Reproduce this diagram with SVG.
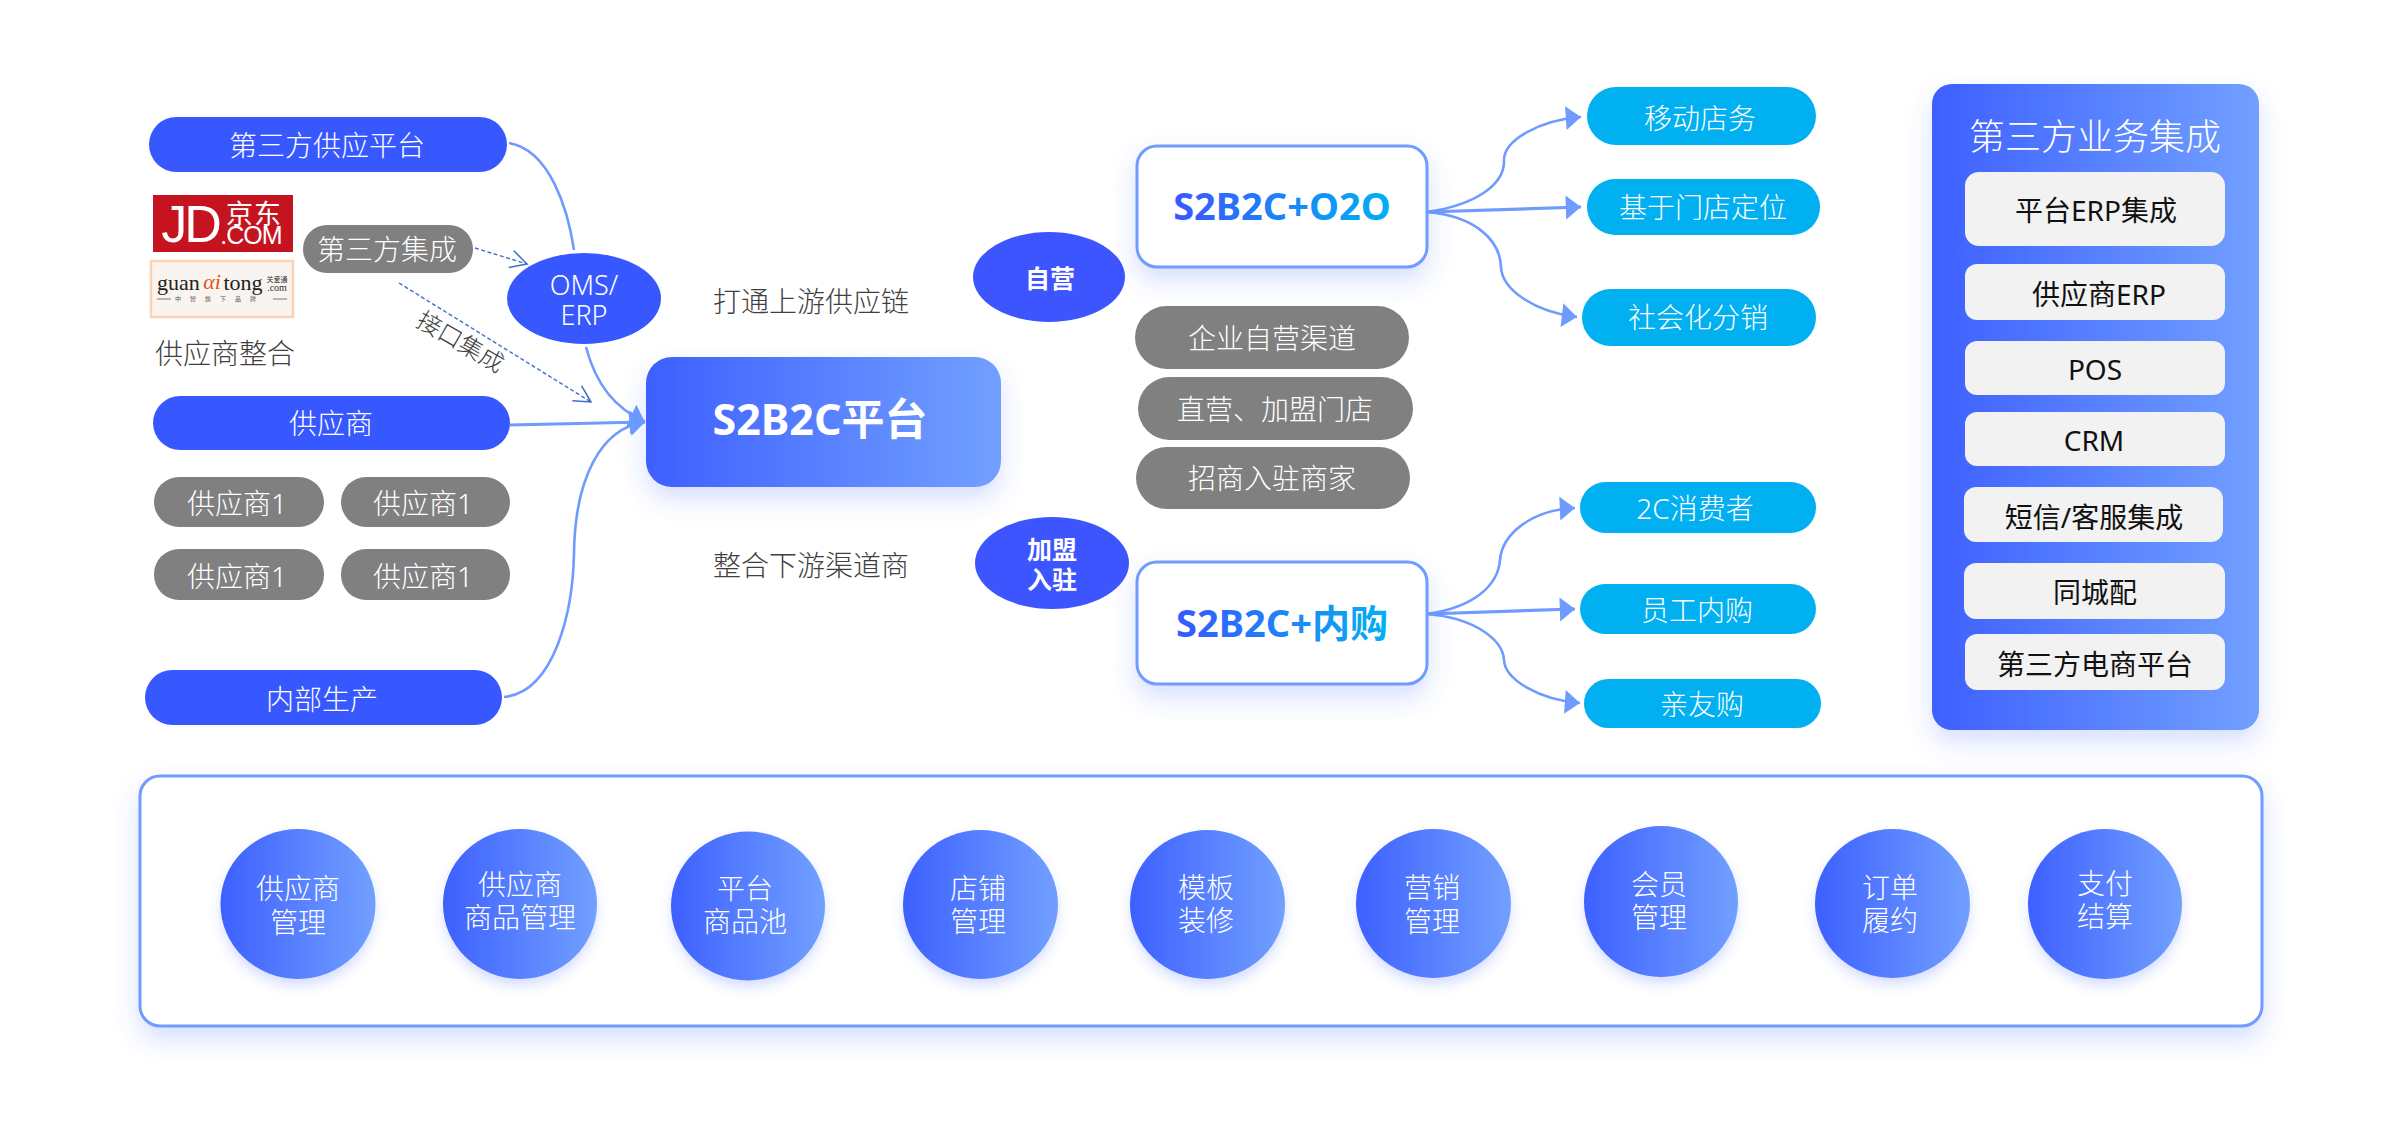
<svg xmlns="http://www.w3.org/2000/svg" width="2400" height="1134" viewBox="0 0 2400 1134">
<style>
text{font-family:"Noto Sans","Noto Sans CJK SC",sans-serif;font-size:28px;font-weight:300;text-anchor:middle;dominant-baseline:central}
.w{fill:#fff}.d{fill:#404040}.k{fill:#111;font-weight:400}
text.b{font-weight:700}
.blue{fill:#3858ff}.grey{fill:#808080}.cy{fill:#00b0f0}.it{fill:#f2f2f2}
.c{fill:none;stroke:#6f9bff;stroke-width:2.6}
.c3{stroke-width:3.2}
.dash{fill:none;stroke:#3f70c8;stroke-width:1.4;stroke-dasharray:4 2.5}
.circ{fill:url(#g1);filter:url(#s2)}
.box{fill:#fff;stroke:#6f9bff;stroke-width:3;filter:url(#s1)}
.lat{font-family:"Liberation Sans",sans-serif;font-weight:400}
.ser{font-family:"Liberation Serif",serif;font-weight:400}
</style>
<defs>
<linearGradient id="g1" x1="0" y1="0" x2="1" y2="0"><stop offset="0" stop-color="#3d60ff"/><stop offset="1" stop-color="#72a0ff"/></linearGradient>
<linearGradient id="t1" gradientUnits="userSpaceOnUse" x1="1173" y1="0" x2="1391" y2="0"><stop offset="0" stop-color="#3858ff"/><stop offset="1" stop-color="#00b0f0"/></linearGradient>
<linearGradient id="t2" gradientUnits="userSpaceOnUse" x1="1177" y1="0" x2="1386" y2="0"><stop offset="0" stop-color="#3858ff"/><stop offset="1" stop-color="#00b0f0"/></linearGradient>
<filter id="s1" x="-20%" y="-30%" width="140%" height="170%"><feDropShadow dx="0" dy="12" stdDeviation="12" flood-color="#3d60ff" flood-opacity=".2"/></filter>
<filter id="s2" x="-30%" y="-30%" width="160%" height="170%"><feDropShadow dx="0" dy="7" stdDeviation="6" flood-color="#3d60ff" flood-opacity=".2"/></filter>
<marker id="af" markerUnits="userSpaceOnUse" markerWidth="18" markerHeight="26" viewBox="0 0 15 24" refX="14" refY="12" orient="auto"><path d="M0,1 L14,12 L0,23 Z" fill="#6f9bff"/></marker>
<marker id="ao" markerUnits="userSpaceOnUse" markerWidth="20" markerHeight="22" viewBox="0 0 18 20" refX="16" refY="10" orient="auto"><path d="M1,2 L16,10 L1,18" fill="none" stroke="#3f70c8" stroke-width="1.4"/></marker>
</defs>
<rect width="2400" height="1134" fill="#fff"/>

<g id="connectors">
<path class="c" d="M509,143 C550,150 568,210 574,250"/>
<path class="c" d="M586,347 C596,385 615,408 645,422" marker-end="url(#af)"/>
<path class="c c3" d="M510,425 L645,422" marker-end="url(#af)"/>
<path class="c" d="M504,697 C555,692 573,610 574,553 C575,480 600,428 645,422" marker-end="url(#af)"/>
<path class="dash" d="M475,248 L527,264" marker-end="url(#ao)"/>
<path class="dash" d="M399,283 L591,402" marker-end="url(#ao)"/>
<path class="c" d="M1427,212 C1475,205 1505,185 1504,160 C1504,140 1540,120 1581,117" marker-end="url(#af)"/>
<path class="c c3" d="M1427,212 L1581,207" marker-end="url(#af)"/>
<path class="c" d="M1427,212 C1475,216 1500,240 1501,267 C1502,290 1535,312 1577,317" marker-end="url(#af)"/>
<path class="c" d="M1427,614 C1475,607 1498,585 1500,560 C1502,535 1530,510 1575,508" marker-end="url(#af)"/>
<path class="c c3" d="M1427,614 L1575,609" marker-end="url(#af)"/>
<path class="c" d="M1427,614 C1475,618 1503,640 1504,660 C1505,680 1540,700 1580,703" marker-end="url(#af)"/>
</g>

<g id="n-third-supply"><rect class="blue" x="149" y="117" width="358" height="55" rx="27.5"/><text class="w" x="327" y="145">第三方供应平台</text></g>
<g id="n-logo-jd"><rect x="153" y="195" width="140" height="57" fill="#c5141f"/>
<text class="w lat" x="190" y="224" style="font-size:52px;letter-spacing:-3px">JD</text>
<text class="w" x="254" y="213" style="font-size:27px;letter-spacing:1px;font-weight:400">京东</text>
<text class="w lat" x="251" y="235" style="font-size:25px;letter-spacing:-1px">.COM</text></g>
<g id="n-logo-gat"><rect x="151" y="261" width="142" height="56" fill="#f9f4f0" stroke="#fcd3b5" stroke-width="2.5"/>
<text class="ser" x="157" y="282" style="font-size:22px;fill:#222;text-anchor:start">guan</text>
<text class="ser" x="212" y="281" style="font-size:22px;fill:#e0561b;font-style:italic;">αi</text>
<text class="ser" x="243" y="282" style="font-size:22px;fill:#222">tong</text>
<text x="277" y="279" style="font-size:7px;fill:#333;font-weight:400">关爱通</text>
<text class="ser" x="277" y="287" style="font-size:10px;fill:#333">.com</text>
<text x="220" y="299" style="font-size:6px;fill:#555;letter-spacing:9px;font-weight:400">中智旗下品牌</text>
<path d="M157,299 H171 M273,299 H287" stroke="#777" stroke-width="1" fill="none"/></g>
<g id="n-third-int"><rect class="grey" x="303" y="225" width="170" height="48" rx="24"/><text class="w" x="387" y="249">第三方集成</text></g>
<g id="n-oms"><ellipse class="blue" cx="584" cy="298.5" rx="77" ry="45.5"/><text class="w" x="584" y="284" style="font-size:27px">OMS/</text><text class="w" x="584" y="314" style="font-size:27px">ERP</text></g>
<g id="t-gys"><text class="d" x="225" y="353">供应商整合</text></g>
<g id="t-iface"><text class="d" x="461" y="341" transform="rotate(30 461 341)" style="font-size:24px">接口集成</text></g>
<g id="n-supplier"><rect class="blue" x="153" y="396" width="357" height="54" rx="27"/><text class="w" x="331" y="423">供应商</text></g>
<g id="n-s1"><rect class="grey" x="154" y="477" width="170" height="50" rx="25"/><text class="w" x="237" y="503">供应商1</text></g>
<g id="n-s2"><rect class="grey" x="341" y="477" width="169" height="50" rx="25"/><text class="w" x="423" y="503">供应商1</text></g>
<g id="n-s3"><rect class="grey" x="154" y="549" width="170" height="51" rx="25"/><text class="w" x="237" y="576">供应商1</text></g>
<g id="n-s4"><rect class="grey" x="341" y="549" width="169" height="51" rx="25"/><text class="w" x="423" y="576">供应商1</text></g>
<g id="n-inner"><rect class="blue" x="145" y="670" width="357" height="55" rx="27.5"/><text class="w" x="322" y="699">内部生产</text></g>
<g id="t-up"><text class="d" x="811" y="301">打通上游供应链</text></g>
<g id="t-down"><text class="d" x="811" y="565">整合下游渠道商</text></g>
<g id="n-platform"><rect x="646" y="357" width="355" height="130" rx="26" fill="url(#g1)" filter="url(#s1)"/><text class="w b" x="820" y="418" style="font-size:43px">S2B2C平台</text></g>

<g id="n-self"><ellipse cx="1049" cy="277" rx="76" ry="45" fill="#3d55ff"/><text class="w b" x="1050" y="278" style="font-size:25px">自营</text></g>
<g id="n-o2o"><rect class="box" x="1137" y="146" width="290" height="121" rx="20"/><text class="b" x="1282" y="205" style="font-size:38px;fill:url(#t1)">S2B2C+O2O</text></g>
<g id="n-g1"><rect class="grey" x="1135" y="306" width="274" height="63" rx="31.5"/><text class="w" x="1272" y="338">企业自营渠道</text></g>
<g id="n-g2"><rect class="grey" x="1138" y="377" width="275" height="63" rx="31.5"/><text class="w" x="1275" y="409">直营、加盟门店</text></g>
<g id="n-g3"><rect class="grey" x="1136" y="447" width="274" height="62" rx="31"/><text class="w" x="1272" y="478">招商入驻商家</text></g>
<g id="n-join"><ellipse cx="1052" cy="563" rx="77" ry="46" fill="#3d55ff"/><text class="w b" x="1052" y="549" style="font-size:25px">加盟</text><text class="w b" x="1052" y="579" style="font-size:25px">入驻</text></g>
<g id="n-neigou"><rect class="box" x="1137" y="562" width="290" height="122" rx="20"/><text class="b" x="1282" y="622" style="font-size:38px;fill:url(#t2)">S2B2C+内购</text></g>

<g id="n-c1"><rect class="cy" x="1587" y="87" width="229" height="58" rx="29"/><text class="w" x="1700" y="118">移动店务</text></g>
<g id="n-c2"><rect class="cy" x="1587" y="179" width="233" height="56" rx="28"/><text class="w" x="1703" y="207">基于门店定位</text></g>
<g id="n-c3"><rect class="cy" x="1582" y="289" width="234" height="57" rx="28.5"/><text class="w" x="1698" y="317">社会化分销</text></g>
<g id="n-c4"><rect class="cy" x="1580" y="482" width="236" height="51" rx="25.5"/><text class="w" x="1695" y="508">2C消费者</text></g>
<g id="n-c5"><rect class="cy" x="1580" y="584" width="236" height="50" rx="25"/><text class="w" x="1697" y="610">员工内购</text></g>
<g id="n-c6"><rect class="cy" x="1584" y="679" width="237" height="49" rx="24.5"/><text class="w" x="1702" y="704">亲友购</text></g>

<g id="n-panel"><rect x="1932" y="84" width="327" height="646" rx="20" fill="url(#g1)" filter="url(#s1)"/><text class="w" x="2095" y="136" style="font-size:36px">第三方业务集成</text></g>
<g id="n-i1"><rect class="it" x="1965" y="172" width="260" height="74" rx="14"/><text class="k" x="2096" y="210">平台ERP集成</text></g>
<g id="n-i2"><rect class="it" x="1965" y="264" width="260" height="56" rx="12"/><text class="k" x="2099" y="294">供应商ERP</text></g>
<g id="n-i3"><rect class="it" x="1965" y="341" width="260" height="54" rx="12"/><text class="k" x="2095" y="369">POS</text></g>
<g id="n-i4"><rect class="it" x="1965" y="412" width="260" height="54" rx="12"/><text class="k" x="2094" y="440">CRM</text></g>
<g id="n-i5"><rect class="it" x="1964" y="487" width="259" height="55" rx="12"/><text class="k" x="2094" y="517">短信/客服集成</text></g>
<g id="n-i6"><rect class="it" x="1964" y="563" width="261" height="56" rx="12"/><text class="k" x="2095" y="592">同城配</text></g>
<g id="n-i7"><rect class="it" x="1965" y="634" width="260" height="56" rx="12"/><text class="k" x="2095" y="664">第三方电商平台</text></g>

<g id="n-bottom"><rect class="box" x="140" y="776" width="2122" height="250" rx="20"/></g>
<g id="n-m1"><ellipse class="circ" cx="298" cy="904" rx="77.5" ry="75"/><text class="w" x="298" y="888">供应商</text><text class="w" x="298" y="922">管理</text></g>
<g id="n-m2"><ellipse class="circ" cx="520" cy="904" rx="77" ry="75"/><text class="w" x="520" y="884">供应商</text><text class="w" x="520" y="917">商品管理</text></g>
<g id="n-m3"><ellipse class="circ" cx="748" cy="906" rx="77" ry="74.5"/><text class="w" x="745" y="888">平台</text><text class="w" x="745" y="921">商品池</text></g>
<g id="n-m4"><ellipse class="circ" cx="980.5" cy="904.5" rx="77.5" ry="74.5"/><text class="w" x="978" y="888">店铺</text><text class="w" x="978" y="921">管理</text></g>
<g id="n-m5"><ellipse class="circ" cx="1207.5" cy="904.5" rx="77.5" ry="74.5"/><text class="w" x="1206" y="887">模板</text><text class="w" x="1206" y="920">装修</text></g>
<g id="n-m6"><ellipse class="circ" cx="1433.5" cy="903.5" rx="77.5" ry="74.5"/><text class="w" x="1432" y="887">营销</text><text class="w" x="1432" y="921">管理</text></g>
<g id="n-m7"><ellipse class="circ" cx="1661" cy="901.5" rx="77" ry="75.5"/><text class="w" x="1659" y="884">会员</text><text class="w" x="1659" y="917">管理</text></g>
<g id="n-m8"><ellipse class="circ" cx="1892.5" cy="903.5" rx="77.5" ry="74.5"/><text class="w" x="1890" y="887">订单</text><text class="w" x="1890" y="920">履约</text></g>
<g id="n-m9"><ellipse class="circ" cx="2105" cy="904" rx="77" ry="75"/><text class="w" x="2105" y="883">支付</text><text class="w" x="2105" y="916">结算</text></g>
</svg>
